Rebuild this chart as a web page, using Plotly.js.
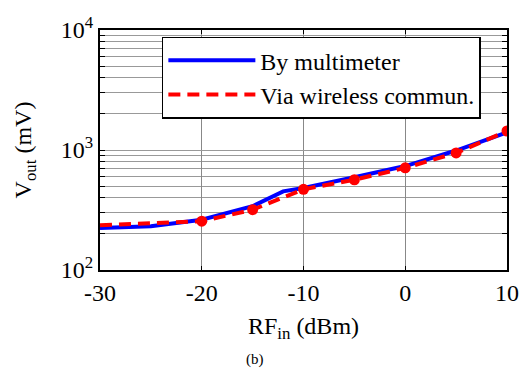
<!DOCTYPE html>
<html>
<head>
<meta charset="utf-8">
<script src="https://cdn.plot.ly/plotly-3.0.1.min.js"></script>
<style>html,body{margin:0;padding:0;background:#fff;}#chart{width:520px;height:375px;}</style>
</head>
<body>
<div id="chart"></div>
<script>
// Data
var rfInMultimeter = [-30, -25, -20, -15, -12, -10, -5, 0, 5, 10];
var voutMultimeter = [224, 232, 262, 340, 452, 482, 592, 735, 990, 1400];
var rfInWireless = [-30, -25, -20, -15, -10, -5, 0, 5, 10];
var voutWireless = [236, 245, 255, 318, 470, 565, 710, 945, 1440];
var markerStart = 2; // wireless markers shown from -20 dBm on
var seriesNames = ["By multimeter", "Via wireless commun."];
var xTickVals = [-30, -20, -10, 0, 10];
var xTickText = ["-30", "-20", "-10", "0", "10"];
var yDecades = [100, 1000, 10000];
var yDecadeLabels = ["10<sup>2</sup>", "10<sup>3</sup>", "10<sup>4</sup>"];

var yMinorVals = [];
for (var d = 0; d < yDecades.length - 1; d++) {
  for (var m = 2; m <= 9; m++) yMinorVals.push(yDecades[d] * m);
}

var FAM = "Liberation Serif, Times New Roman, serif";
function f(size) { return {family: FAM, size: size, color: "#000"}; }

var traces = [
  {x: rfInMultimeter, y: voutMultimeter, type: "scatter", mode: "lines",
   name: seriesNames[0], line: {color: "#0000ff", width: 4}},
  {x: rfInWireless, y: voutWireless, type: "scatter", mode: "lines",
   name: seriesNames[1], line: {color: "#ff0000", width: 4, dash: "12px,7px"}},
  {x: rfInWireless.slice(markerStart), y: voutWireless.slice(markerStart), type: "scatter", mode: "markers",
   showlegend: false, marker: {color: "#ff0000", size: 11}}
];

var layout = {
  width: 520, height: 375,
  margin: {l: 100, r: 13, t: 30, b: 105},
  paper_bgcolor: "#fff", plot_bgcolor: "#fff",
  font: f(24),
  showlegend: true,
  legend: {x: 0.152, y: 0.972, xanchor: "left", yanchor: "top",
    bgcolor: "#fff", bordercolor: "#000", borderwidth: 1.5,
    font: f(24), tracegroupgap: 0, itemwidth: 87},
  xaxis: {
    range: [-30, 10], tickvals: xTickVals, ticktext: xTickText, ticks: "inside", ticklen: 4,
    tickcolor: "#000", showline: true, linecolor: "#000", linewidth: 2, mirror: "ticks",
    showgrid: true, gridcolor: "#888", gridwidth: 1, zeroline: false,
    tickfont: f(24),
    title: {text: "RF<sub>in</sub> (dBm)", font: f(24), standoff: 12}
  },
  yaxis: {
    type: "log", range: [2, 4], tickvals: yDecades, ticktext: yDecadeLabels,
    ticks: "inside", ticklen: 5, tickcolor: "#000", showline: true, linecolor: "#000",
    linewidth: 2, mirror: "ticks", showgrid: true, gridcolor: "#999", gridwidth: 1,
    zeroline: false, tickfont: f(24),
    minor: {tickvals: yMinorVals, ticks: "inside", ticklen: 5, tickcolor: "#000",
      showgrid: true, gridcolor: "#999", gridwidth: 1},
    title: {text: "V<sub>out</sub> (mV)", font: f(24), standoff: 22}
  },
  annotations: [
    {text: "(b)", xref: "paper", yref: "paper", x: 0.38, y: -0.33, showarrow: false,
     xanchor: "center", yanchor: "top", font: f(15)}
  ]
};

Plotly.newPlot("chart", traces, layout, {displayModeBar: false, staticPlot: true});
</script>
</body>
</html>
